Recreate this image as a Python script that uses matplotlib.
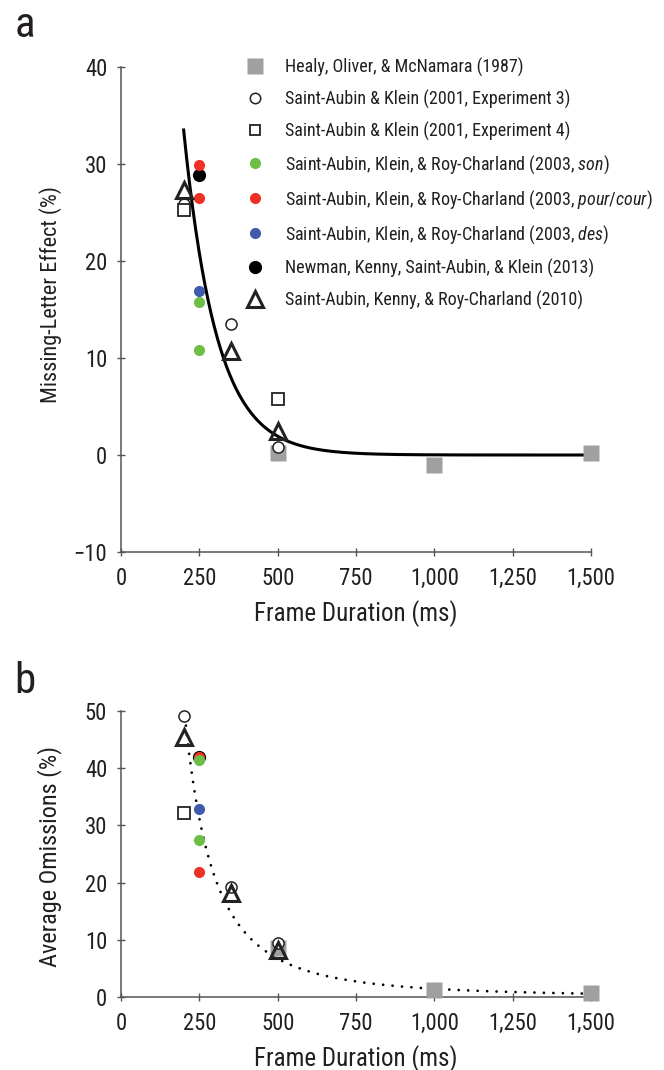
import numpy as np
import matplotlib
matplotlib.use('Agg')
import matplotlib.pyplot as plt
from matplotlib.lines import Line2D

FONT = ['Roboto Condensed', 'Liberation Sans', 'DejaVu Sans']
plt.rcParams['font.family'] = FONT
plt.rcParams['mathtext.fontset'] = 'custom'
plt.rcParams['mathtext.it'] = 'Roboto Condensed:italic'
plt.rcParams['mathtext.rm'] = 'Roboto Condensed'
plt.rcParams['axes.unicode_minus'] = True

# ---- data ----
labels = [
    'Healy, Oliver, & McNamara (1987)',
    'Saint-Aubin & Klein (2001, Experiment 3)',
    'Saint-Aubin & Klein (2001, Experiment 4)',
    r'Saint-Aubin, Klein, & Roy-Charland (2003, $\it{son}$)',
    r'Saint-Aubin, Klein, & Roy-Charland (2003, $\it{pour/cour}$)',
    r'Saint-Aubin, Klein, & Roy-Charland (2003, $\it{des}$)',
    'Newman, Kenny, Saint-Aubin, & Klein (2013)',
    'Saint-Aubin, Kenny, & Roy-Charland (2010)',
]

# panel a: missing-letter effect (%)
healy_x = [500, 1000, 1500]
healy_a = [0.2, -1.0, 0.2]
exp3_x = [200, 350, 500]
exp3_a = [25.9, 13.5, 0.8]
exp4_x = [200, 500]
exp4_a = [25.3, 5.8]
son_x = [250, 250]
son_a = [15.8, 10.8]
pour_x = [250, 250]
pour_a = [29.9, 26.5]
des_x = [250]
des_a = [16.9]
newman_x = [250]
newman_a = [28.9]
kenny_x = [200, 350, 500]
kenny_a = [27.3, 10.7, 2.5]

# panel b: average omissions (%)
healy_b = [8.6, 1.3, 0.7]
exp3_b = [49.2, 19.2, 9.5]
exp4_b = [32.2]
son_b = [41.4, 27.4]
pour_b = [42.0, 21.9]
des_b = [32.8]
newman_b = [42.0]
kenny_b = [45.5, 18.2, 8.2]

# fitted curves: a -> exponential, b -> power
fit_a_amp, fit_a_rate = 224.0, 0.0095
fit_b_amp, fit_b_exp = np.exp(15.7), 2.22
fit_x_min, fit_x_max = 200, 1500

GRAY = '#a0a0a0'
GREEN = '#6cbe45'
RED = '#ee3124'
BLUE = '#3f5ba9'
AXC = '#555555'
TXT = '#231f20'

fig = plt.figure(figsize=(6.64, 10.70), dpi=100)
ax_a = fig.add_axes([0.1822, 0.4841, 0.7078, 0.4533])
ax_b = fig.add_axes([0.1822, 0.0682, 0.7078, 0.2673])


def style_axes(ax, ylim, yticks):
    ax.set_xlim(0, 1500)
    ax.set_ylim(*ylim)
    ax.set_xticks([0, 250, 500, 750, 1000, 1250, 1500])
    ax.set_xticklabels(['0', '250', '500', '750', '1,000', '1,250', '1,500'])
    ax.set_yticks(yticks)
    ax.set_yticklabels([str(t).replace('-', '\u2212') for t in yticks])
    for s in ['top', 'right']:
        ax.spines[s].set_visible(False)
    for s in ['left', 'bottom']:
        ax.spines[s].set_color(AXC)
        ax.spines[s].set_linewidth(1.1)
    ax.tick_params(direction='inout', length=6, width=1, color=AXC,
                   labelsize=16.3, labelcolor=TXT)
    ax.tick_params(axis='y', pad=7)
    ax.tick_params(axis='x', pad=8)
    ax.set_xlabel('Frame Duration (ms)', fontsize=18, color=TXT, labelpad=7)


def scatter_all(ax, vals, zorder_green=4):
    healy, exp3, exp4, son, pour, des, newman, kenny = vals
    ax.plot(healy_x, healy, 's', ms=12, color=GRAY, mec='none', zorder=3, clip_on=False)
    ax.plot(newman_x, newman, 'o', ms=9.5, color='black', mec='none', zorder=3.5, clip_on=False)
    ax.plot(pour_x, pour, 'o', ms=8, color=RED, mec='none', zorder=4, clip_on=False)
    ax.plot(son_x, son, 'o', ms=8, color=GREEN, mec='none', zorder=zorder_green, clip_on=False)
    ax.plot(des_x, des, 'o', ms=8, color=BLUE, mec='none', zorder=4, clip_on=False)
    ax.plot(exp3_x, exp3, 'o', ms=8, mfc='white', mec='#222222', mew=1.1, zorder=5, clip_on=False)
    ax.plot(exp4_x[:len(exp4)], exp4, 's', ms=8, mfc='white', mec='#222222', mew=1.3, zorder=5, clip_on=False)
    ax.plot(kenny_x, kenny, '^', ms=11, mfc='none', mec='#222222', mew=2.2, zorder=6, clip_on=False)


# ---- panel a ----
style_axes(ax_a, (-10, 40), [-10, 0, 10, 20, 30, 40])
ax_a.set_ylabel('Missing-Letter Effect (%)', fontsize=16, color=TXT)
ax_a.yaxis.set_label_coords(-0.125, 0.53)
scatter_all(ax_a, [healy_a, exp3_a, exp4_a, son_a, pour_a, des_a, newman_a, kenny_a])
fx = np.linspace(fit_x_min, fit_x_max, 400)
ax_a.plot(fx, fit_a_amp * np.exp(-fit_a_rate * fx), color='black', lw=2.2, zorder=2.5)

handles = [
    Line2D([], [], ls='none', marker='s', ms=12, color=GRAY, mec='none'),
    Line2D([], [], ls='none', marker='o', ms=7.5, mfc='white', mec='#222222', mew=1.1),
    Line2D([], [], ls='none', marker='s', ms=7.5, mfc='white', mec='#222222', mew=1.3),
    Line2D([], [], ls='none', marker='o', ms=8, color=GREEN, mec='none'),
    Line2D([], [], ls='none', marker='o', ms=8, color=RED, mec='none'),
    Line2D([], [], ls='none', marker='o', ms=8, color=BLUE, mec='none'),
    Line2D([], [], ls='none', marker='o', ms=9.5, color='black', mec='none'),
    Line2D([], [], ls='none', marker='^', ms=11, mfc='none', mec='#222222', mew=2.2),
]
leg = fig.legend(handles, labels, loc='upper left', bbox_to_anchor=(0.368, 0.946),
                 frameon=False, fontsize=13, labelspacing=0.7, handlelength=1.2,
                 handletextpad=1.05, borderpad=0, borderaxespad=0)
for t in leg.get_texts():
    t.set_color(TXT)

# ---- panel b ----
style_axes(ax_b, (0, 50), [0, 10, 20, 30, 40, 50])
ax_b.set_ylabel('Average Omissions (%)', fontsize=17.5, color=TXT)
ax_b.yaxis.set_label_coords(-0.125, 0.49)
scatter_all(ax_b, [healy_b, exp3_b, exp4_b, son_b, pour_b, des_b, newman_b, kenny_b],
            zorder_green=4.5)
fxb = np.linspace(fit_x_min + 4, fit_x_max - 25, 400)
ax_b.plot(fxb, fit_b_amp * fxb ** (-fit_b_exp), color='black', lw=2.0,
          ls=(0, (0.01, 3.4)), dash_capstyle='round', zorder=2.5)

fig.text(0.022, 0.9655, 'a', fontsize=31, color=TXT, ha='left', va='baseline')
fig.text(0.022, 0.3525, 'b', fontsize=31, color=TXT, ha='left', va='baseline')

fig.savefig('out.png', dpi=100)
